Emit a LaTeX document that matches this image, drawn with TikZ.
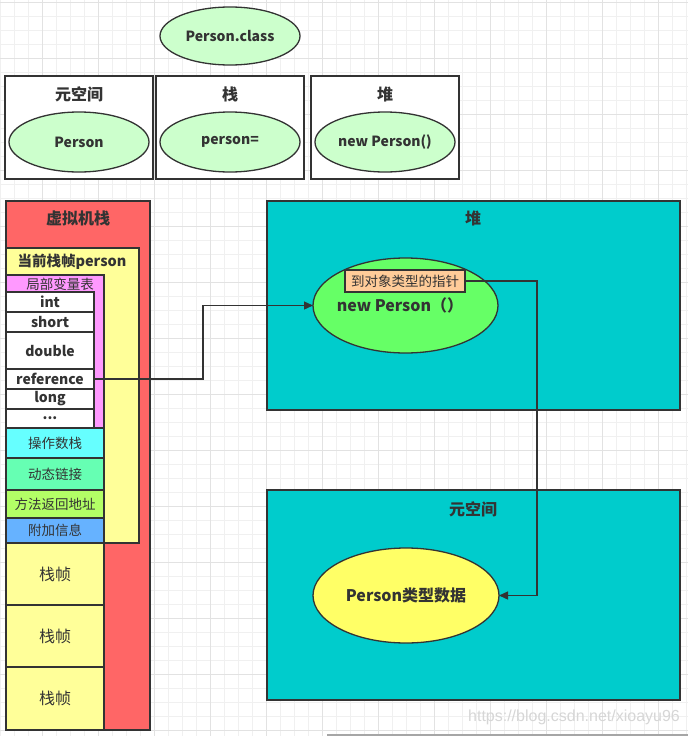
\documentclass[tikz,border=0pt]{standalone}
\usepackage{fontspec}
\setmainfont{Noto Sans CJK SC}
\newfontfamily\wmfont{Liberation Sans}
\usetikzlibrary{shapes.geometric,arrows.meta}
\definecolor{stroke}{HTML}{333333}
\definecolor{lgreen}{HTML}{CCFFCC}
\definecolor{vmred}{HTML}{FF6666}
\definecolor{frameyellow}{HTML}{FFFF99}
\definecolor{lvmagenta}{HTML}{FF99FF}
\definecolor{opcyan}{HTML}{66FFFF}
\definecolor{dlgreen}{HTML}{66FFB3}
\definecolor{retgreen}{HTML}{B3FF66}
\definecolor{infoblue}{HTML}{66B2FF}
\definecolor{heapteal}{HTML}{00CCCC}
\definecolor{objgreen}{HTML}{66FF66}
\definecolor{ptrorange}{HTML}{FFCC99}
\definecolor{metayellow}{HTML}{FFFF66}
\definecolor{gridminor}{HTML}{F0F0F0}
\definecolor{gridmajor}{HTML}{E2E2E2}
\begin{document}
\begin{tikzpicture}[x=1pt,y=-1pt,
  box/.style={draw=stroke, line width=1.3pt, inner sep=0pt, outer sep=0pt, anchor=north west},
  ell/.style={ellipse, draw=stroke, line width=1.3pt, inner sep=0pt, outer sep=0pt, text=stroke,
     font=\bfseries\fontsize{14}{16}\selectfont},
  txt/.style={inner sep=0pt, text=stroke, font=\bfseries\fontsize{14}{16}\selectfont},
  title/.style={inner sep=0pt, text=stroke, font=\bfseries\fontsize{16}{18}\selectfont},
  small/.style={inner sep=0pt, text=stroke, font=\fontsize{13.5}{15}\selectfont},
  big/.style={inner sep=0pt, text=stroke, font=\fontsize{16}{18}\selectfont},
  conn/.style={draw=stroke, line width=1.3pt},
  tip/.style={-{Triangle[length=9pt,width=8pt]}}
]
\useasboundingbox (0,0) rectangle (688,736);
\fill[white] (0,0) rectangle (688,736);
% background grid
\foreach \i in {0,...,49} \draw[gridminor, line width=0.8pt] (\i*14+0.3,0) -- ++(0,736);
\foreach \j in {0,...,52} \draw[gridminor, line width=0.8pt] (0,\j*14+2.3) -- ++(688,0);
\foreach \i in {0,...,11} \draw[gridmajor, line width=0.8pt] (\i*56+42.3,0) -- ++(0,736);
\foreach \j in {0,...,13} \draw[gridmajor, line width=0.8pt] (0,\j*56+2.3) -- ++(688,0);

% top part
\node[ell, fill=lgreen, minimum width=140, minimum height=58] (cls) at (230,36) {Person.class};
\node[box, fill=white, minimum width=148, minimum height=103] (b1) at (5,76) {};
\node[title] (b1t) at (79,94) {元空间};
\node[ell, fill=lgreen, minimum width=140, minimum height=60] (e1) at (79,142) {Person};
\node[box, fill=white, minimum width=148, minimum height=103] (b2) at (156,76) {};
\node[title] (b2t) at (230,94) {栈};
\node[ell, fill=lgreen, minimum width=140, minimum height=60] (e2) at (230,142) {person=};
\node[box, fill=white, minimum width=148, minimum height=103] (b3) at (311,76) {};
\node[title] (b3t) at (385,94) {堆};
\node[ell, fill=lgreen, minimum width=140, minimum height=60] (e3) at (385,142) {new Person()};

% VM stack
\node[box, fill=vmred, minimum width=144, minimum height=529] (vm) at (6,201) {};
\node[title] (vmt) at (78,218) {虚拟机栈};
\node[box, fill=frameyellow, minimum width=133, minimum height=295] (cur) at (6,248) {};
\node[txt, font=\bfseries\fontsize{14.5}{16}\selectfont] (curt) at (72,262) {当前栈帧person};
\node[box, fill=lvmagenta, minimum width=98, minimum height=153] (lv) at (6,275) {};
\node[small] (lvt) at (60,284) {局部变量表};
\node[box, fill=white, minimum width=88, minimum height=20] (rint) at (6,292) {};
\node[txt] at (rint.center) {int};
\node[box, fill=white, minimum width=88, minimum height=20] (rshort) at (6,312) {};
\node[txt] at (rshort.center) {short};
\node[box, fill=white, minimum width=88, minimum height=37] (rdouble) at (6,332) {};
\node[txt] at (rdouble.center) {double};
\node[box, fill=white, minimum width=88, minimum height=20] (rref) at (6,369) {};
\node[txt] at (rref.center) {reference};
\node[box, fill=white, minimum width=88, minimum height=20] (rlong) at (6,389) {};
\node[txt] at (rlong.center) {long};
\node[box, fill=white, minimum width=88, minimum height=19] (rdots) at (6,409) {};
\node[txt] at (rdots.center) {...};
\node[box, fill=opcyan, minimum width=98, minimum height=30] (op) at (6,428) {};
\node[small] at (op.center) {操作数栈};
\node[box, fill=dlgreen, minimum width=98, minimum height=32] (dl) at (6,458) {};
\node[small] at (dl.center) {动态链接};
\node[box, fill=retgreen, minimum width=98, minimum height=28] (ret) at (6,490) {};
\node[small] at (ret.center) {方法返回地址};
\node[box, fill=infoblue, minimum width=98, minimum height=25] (info) at (6,518) {};
\node[small] at (info.center) {附加信息};
\node[box, fill=frameyellow, minimum width=98, minimum height=62] (f1) at (6,543) {};
\node[big] at (f1.center) {栈帧};
\node[box, fill=frameyellow, minimum width=98, minimum height=62] (f2) at (6,605) {};
\node[big] at (f2.center) {栈帧};
\node[box, fill=frameyellow, minimum width=98, minimum height=63] (f3) at (6,667) {};
\node[big] at (f3.center) {栈帧};

% heap
\node[box, fill=heapteal, minimum width=413, minimum height=209] (heap) at (267,201) {};
\node[title] (heapt) at (473,218) {堆};
\node[ellipse, draw=stroke, line width=1.3pt, fill=objgreen, minimum width=185, minimum height=95, inner sep=0pt, outer sep=0pt] (obj) at (405.5,305.5) {};
\node[box, fill=ptrorange, minimum width=120, minimum height=22] (ptr) at (345,270) {};
\node[small] at (ptr.center) {到对象类型的指针};
\node[txt, font=\bfseries\fontsize{16}{18}\selectfont] (objt) at (400,305) {new Person（）};

% metaspace
\node[box, fill=heapteal, minimum width=413, minimum height=210] (meta) at (267,490) {};
\node[title] (metat) at (473,509) {元空间};
\node[ell, fill=metayellow, minimum width=186, minimum height=95, font=\bfseries\fontsize{16}{18}\selectfont] (klass) at (406,595.5) {Person类型数据};

% connectors
\coordinate (bendA) at (203,0);
\coordinate (bendB) at (537,0);
\draw[conn, tip] (rref.east) -| (bendA |- obj.west) -- (obj.west);
\draw[conn, tip] (ptr.east) -| (bendB |- klass.east) -- (klass.east);

% watermark and bottom edge
\node[inner sep=0pt, text=black!16, font=\wmfont\fontsize{16}{18}\selectfont] (wm) at (574,717) {https://blog.csdn.net/xioayu96};
\coordinate (edgeA) at (327,735);
\coordinate (edgeB) at (688,735);
\draw[black!35, line width=1.5pt] (edgeA) -- (edgeB);
\end{tikzpicture}
\end{document}
